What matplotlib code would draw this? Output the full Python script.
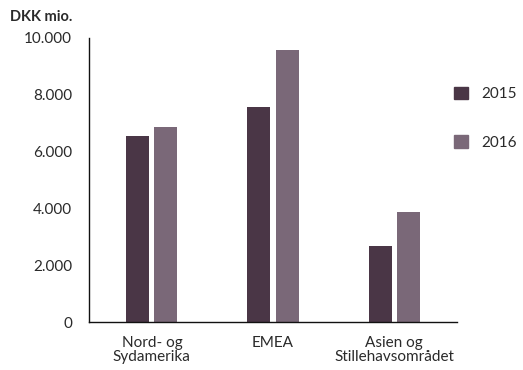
import numpy as np
import matplotlib.pyplot as plt
from matplotlib.patches import Patch

# Revenue by region, DKK million
regions = ['Nord- og\nSydamerika', 'EMEA', 'Asien og\nStillehavsområdet']
rev_2015 = [6550, 7570, 2680]
rev_2016 = [6870, 9580, 3870]
yticks = [0, 2000, 4000, 6000, 8000, 10000]
ytick_labels = ['0', '2.000', '4.000', '6.000', '8.000', '10.000']

c15 = '#4a3646'
c16 = '#7a6878'
txt = '#2a2a2a'

plt.rcParams['font.family'] = ['Lato', 'DejaVu Sans']

fig = plt.figure(figsize=(5.23, 3.70), dpi=100)
ax = fig.add_axes([0.170, 0.1297, 0.704, 0.7676])

x = np.arange(len(regions))
w = 0.19
off = 0.116
ax.bar(x - off, rev_2015, width=w, color=c15)
ax.bar(x + off, rev_2016, width=w, color=c16)

ax.set_xlim(-0.52, 2.52)
ax.set_ylim(0, 10000)
ax.set_yticks(yticks)
ax.set_yticklabels(ytick_labels)
ax.set_xticks(x)
ax.set_xticklabels(regions, linespacing=1.05)
ax.tick_params(axis='both', length=0, labelsize=11, labelcolor=txt)
ax.tick_params(axis='y', pad=12)
ax.tick_params(axis='x', pad=10)

for s in ['top', 'right']:
    ax.spines[s].set_visible(False)
for s in ['left', 'bottom']:
    ax.spines[s].set_color('#111111')
    ax.spines[s].set_linewidth(1.0)

fig.text(10 / 523, 1 - 17 / 370, 'DKK mio.', fontsize=10.5, fontweight='bold',
         color=txt, ha='left', va='center')

handles = [Patch(color=c15, label='2015'), Patch(color=c16, label='2016')]
fig.legend(handles=handles, loc='upper left', bbox_to_anchor=(440 / 523, 1 - 73 / 370),
           frameon=False, fontsize=11, handlelength=0.9, handleheight=0.9,
           handletextpad=0.9, labelspacing=2.2, labelcolor=txt)

fig.savefig('out.png', dpi=100)
